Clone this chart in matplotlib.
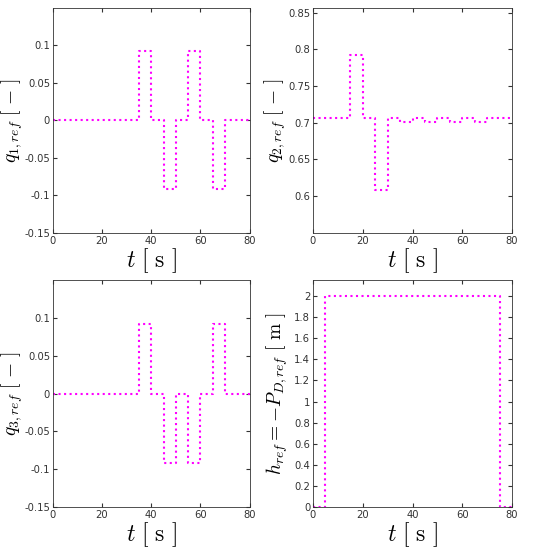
import numpy as np
import matplotlib.pyplot as plt

plt.rcParams['mathtext.fontset'] = 'cm'

# step signals (value holds from each time until the next)
t1 = [0, 35, 40, 45, 50, 55, 60, 65, 70, 80]
q1 = [0, 0.092, 0, -0.092, 0, 0.092, 0, -0.092, 0, 0]

t2 = [0, 15, 20, 25, 30, 35, 40, 45, 50, 55, 60, 65, 70, 80]
q2 = [0.707, 0.793, 0.707, 0.609, 0.707, 0.701, 0.707, 0.701, 0.707, 0.701, 0.707, 0.701, 0.707, 0.707]

t3 = [0, 35, 40, 45, 50, 55, 60, 65, 70, 80]
q3 = [0, 0.092, 0, -0.092, 0, -0.092, 0, 0.092, 0, 0]

t4 = [0, 5, 75, 80]
h = [0, 2, 0, 0]

fig = plt.figure(figsize=(5.5, 5.49), dpi=100)
rects = [[0.096, 0.576, 0.358, 0.41], [0.569, 0.576, 0.362, 0.41],
         [0.096, 0.0765, 0.358, 0.413], [0.569, 0.0765, 0.362, 0.413]]
series = [(t1, q1), (t2, q2), (t3, q3), (t4, h)]
ylabels = [r'$q_{1,ref}\ [\ \mathrm{-}\ ]$', r'$q_{2,ref}\ [\ \mathrm{-}\ ]$',
           r'$q_{3,ref}\ [\ \mathrm{-}\ ]$', r'$h_{ref} = -P_{D,ref}\ [\ \mathrm{m}\ ]$']
ylims = [(-0.15, 0.15), (0.55, 0.857), (-0.15, 0.15), (0, 2.15)]
yticks = [[-0.15, -0.1, -0.05, 0, 0.05, 0.1],
          [0.6, 0.65, 0.7, 0.75, 0.8, 0.85],
          [-0.15, -0.1, -0.05, 0, 0.05, 0.1],
          np.arange(0, 2.01, 0.2)]
ytl = [['-0.15', '-0.1', '-0.05', '0', '0.05', '0.1'],
       ['0.6', '0.65', '0.7', '0.75', '0.8', '0.85'],
       ['-0.15', '-0.1', '-0.05', '0', '0.05', '0.1'],
       ['0', '0.2', '0.4', '0.6', '0.8', '1', '1.2', '1.4', '1.6', '1.8', '2']]
ylab_x = [-0.14, -0.125, -0.14, -0.115]

for i in range(4):
    ax = fig.add_axes(rects[i])
    t, y = series[i]
    ax.step(t, y, where='post', color='#ff00ff', linestyle=':', linewidth=1.5)
    ax.set_xlim(0, 80)
    ax.set_ylim(*ylims[i])
    ax.set_xticks([0, 20, 40, 60, 80])
    ax.set_yticks(yticks[i])
    ax.set_yticklabels(ytl[i])
    ax.tick_params(direction='in', top=True, right=True, labelsize=7.2,
                   labelcolor='#333333', color='#333333', length=3, pad=2)
    for s in ax.spines.values():
        s.set_color('#333333')
        s.set_linewidth(0.6)
    ax.set_xlabel(r'$t\ [\ \mathrm{s}\ ]$', fontsize=17)
    ax.xaxis.set_label_coords(0.5, -0.06)
    ax.set_ylabel(ylabels[i], fontsize=14)
    ax.yaxis.set_label_coords(ylab_x[i], 0.5)

fig.savefig('out.png')
